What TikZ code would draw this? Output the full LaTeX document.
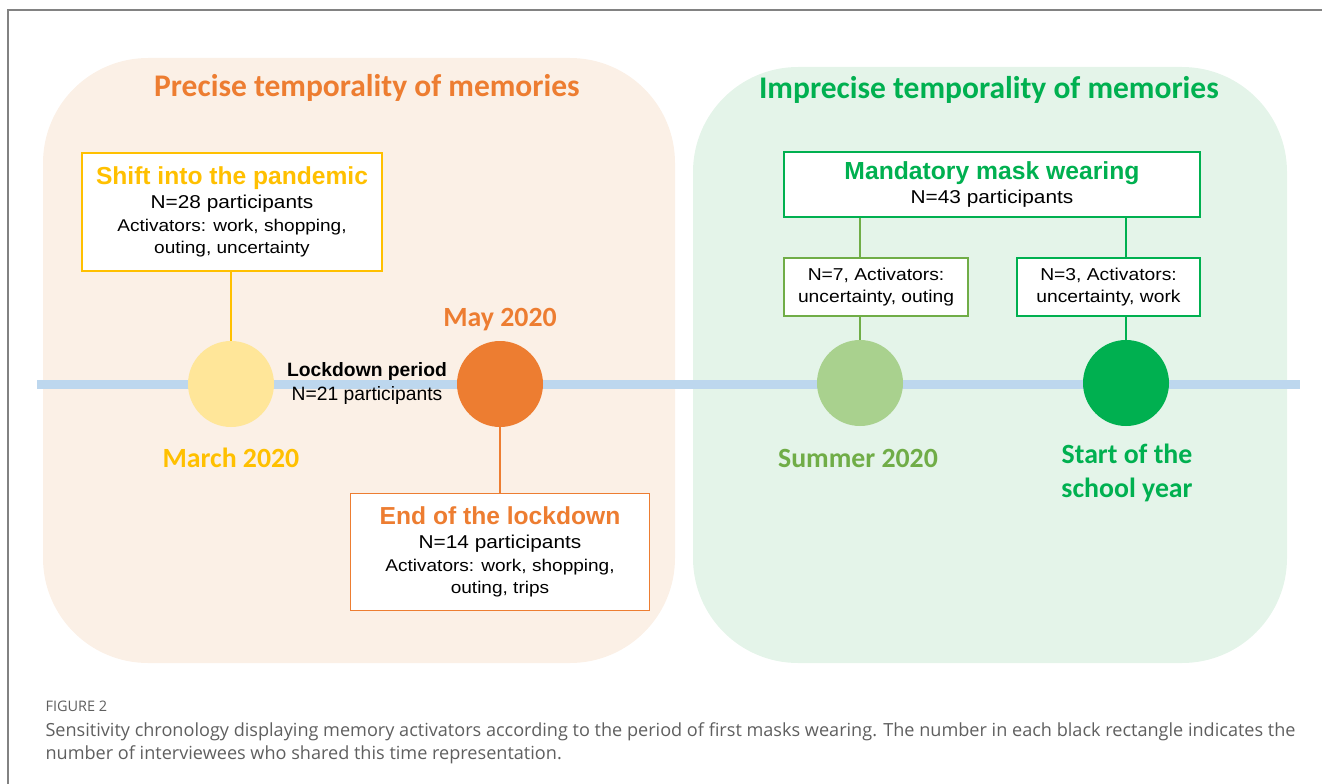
\documentclass[tikz,border=0pt]{standalone}
\usepackage{fontspec}
\setmainfont{Liberation Sans}
\newfontfamily\bodyfont{Liberation Sans}[FakeStretch=1.12]
\newfontfamily\titlefont{Carlito}[BoldFont=Carlito Bold]
\newfontfamily\capfont{Open Sans}
\definecolor{peach}{RGB}{251,240,230}
\definecolor{mint}{RGB}{228,244,233}
\definecolor{tline}{RGB}{189,215,238}
\definecolor{orng}{RGB}{237,125,49}
\definecolor{gold}{RGB}{255,192,0}
\definecolor{lyellow}{RGB}{255,230,153}
\definecolor{lgreen}{RGB}{169,209,142}
\definecolor{dgreen}{RGB}{0,176,80}
\definecolor{ogreen}{RGB}{112,173,71}
\definecolor{capgray}{RGB}{95,95,95}
\definecolor{framegray}{RGB}{130,130,130}
\tikzset{
  panel/.style={rounded corners=105pt, draw=none},
  bigtitle/.style={font=\titlefont\bfseries\fontsize{31.5}{34}\selectfont},
  datelabel/.style={font=\titlefont\bfseries\fontsize{27.8}{34}\selectfont, align=center},
  dot/.style={circle, minimum size=86pt, inner sep=0pt, draw=none},
  infobox/.style={draw, fill=white, line width=1.2pt, align=center, inner sep=0pt,
    font=\bodyfont\fontsize{17}{22.5}\selectfont},
  link/.style={line width=1.2pt},
}
\begin{document}
\begin{tikzpicture}[x=1pt,y=-1pt]
\useasboundingbox (0,0) rectangle (1322,784);
% frame
\draw[framegray, line width=1.5pt] (8,784) -- (8,10) -- (1322,10);
% panels
\fill[peach, panel] (43,58) rectangle (675,663);
\fill[mint, panel] (693,67) rectangle (1287,663);
\node[bigtitle, text=orng] (t1) at (367,88) {Precise temporality of memories};
\node[bigtitle, text=dgreen] (t2) at (989,90) {Imprecise temporality of memories};
% timeline
\coordinate (tl0) at (37,384);
\coordinate (tl1) at (1300,384);
\draw[tline, line width=9pt] (tl0) -- (tl1);
% circles
\node[dot, fill=lyellow] (mar) at (231,384) {};
\node[dot, fill=orng] (may) at (500,384) {};
\node[dot, fill=lgreen] (sum) at (860,383) {};
\node[dot, fill=dgreen] (sch) at (1126,383) {};
% date labels
\node[datelabel, text=gold] (marl) at (231,458) {March 2020};
\node[datelabel, text=orng] (mayl) at (500,320) {May 2020};
\node[datelabel, text=ogreen] (suml) at (858,458) {Summer 2020};
\node[datelabel, text=dgreen] (schl) at (1127,473) {Start of the\\school year};
% lockdown
\node[align=center, font=\fontsize{19.3}{24}\selectfont] (lock) at (367,384)
  {\textbf{Lockdown period}\\N=21 participants};
% boxes
\node[infobox, draw=gold, minimum width=300pt, minimum height=118pt] (shift) at (232,212)
  {{\color{gold}\rmfamily\fontsize{24.6}{26}\selectfont\bfseries Shift into the pandemic}\\[2pt]
   {\fontsize{18.6}{24}\selectfont N=28 participants}\\
   Activators: work, shopping,\\ outing, uncertainty};
\node[infobox, draw=orng, minimum width=299pt, minimum height=117pt] (end) at (500,552)
  {{\color{orng}\rmfamily\fontsize{24.6}{26}\selectfont\bfseries End of the lockdown}\\[2pt]
   {\fontsize{18.6}{24}\selectfont N=14 participants}\\
   Activators: work, shopping,\\ outing, trips};
\node[infobox, draw=dgreen, minimum width=416pt, minimum height=65pt] (mand) at (992,184.5)
  {{\color{dgreen}\rmfamily\fontsize{24.7}{26}\selectfont\bfseries Mandatory mask wearing}\\[2pt]
   {\fontsize{18.6}{24}\selectfont N=43 participants}};
\node[infobox, draw=ogreen, minimum width=184pt, minimum height=58pt,
  font=\bodyfont\fontsize{17.2}{22}\selectfont] (sub1) at (876,287)
  {N=7, Activators:\\uncertainty, outing};
\node[infobox, draw=dgreen, minimum width=183pt, minimum height=58pt,
  font=\bodyfont\fontsize{17.2}{22}\selectfont] (sub2) at (1108.5,287)
  {N=3, Activators:\\uncertainty, work};
% connectors
\draw[link, gold] (shift.south -| mar.north) -- (mar.north);
\draw[link, orng] (may.south) -- (end.north -| may.south);
\draw[link, ogreen] (mand.south -| sum.north) -- (sub1.north -| sum.north);
\draw[link, ogreen] (sub1.south -| sum.north) -- (sum.north);
\draw[link, dgreen] (mand.south -| sch.north) -- (sub2.north -| sch.north);
\draw[link, dgreen] (sub2.south -| sch.north) -- (sch.north);
% caption
\node[anchor=base west, text=capgray, font=\capfont\fontsize{14.5}{16}\selectfont] (fig) at (42,711) {FIGURE 2};
\node[anchor=base west, text=capgray, align=left, font=\capfont\fontsize{18.1}{22.5}\selectfont] (cap) at (42,759)
  {Sensitivity chronology displaying memory activators according to the period of first masks wearing. The number in each black rectangle indicates the\\
   number of interviewees who shared this time representation.};
\end{tikzpicture}
\end{document}
